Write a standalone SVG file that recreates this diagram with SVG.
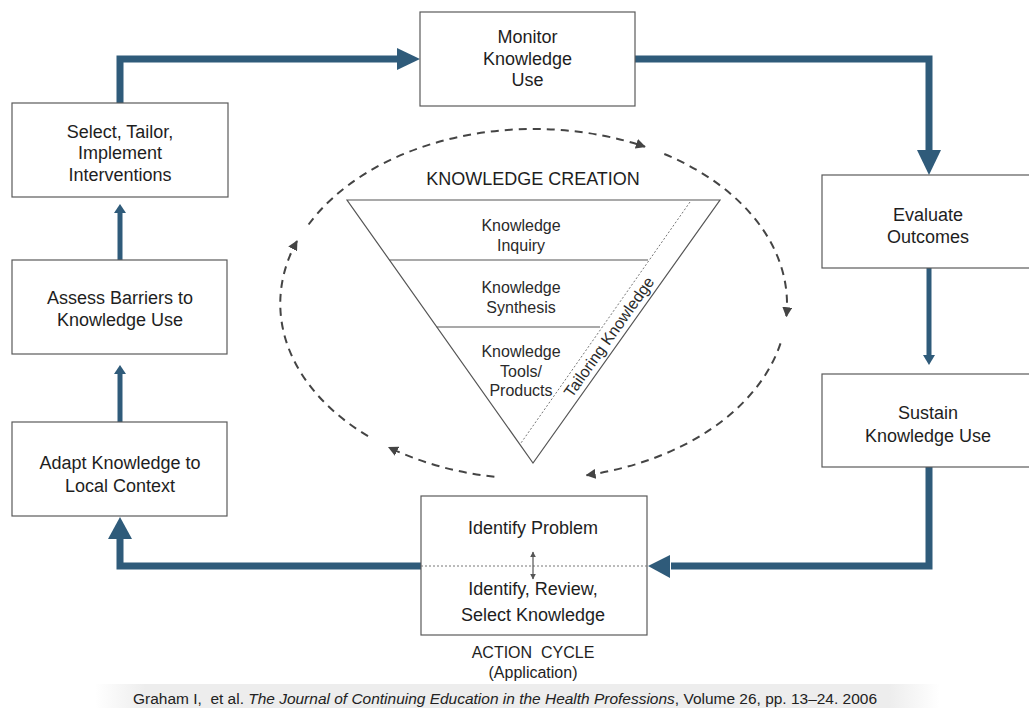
<svg xmlns="http://www.w3.org/2000/svg" width="1029" height="708" viewBox="0 0 1029 708">
  <defs>
    <style>
      .box { fill: #ffffff; stroke: #5a5a5a; stroke-width: 1.2; }
      .lbl { font-family: "Liberation Sans", Arial, sans-serif; font-size: 18px; fill: #1e1e1e; text-anchor: middle; }
      .tri { font-family: "Liberation Sans", Arial, sans-serif; font-size: 16px; fill: #2a2a2a; text-anchor: middle; }
      .pre { white-space: pre; }
      .flow { fill: none; stroke: #2f5b7a; stroke-width: 7; stroke-linejoin: miter; }
      .flow-thin { fill: none; stroke: #2f5b7a; stroke-width: 5; }
      .head { fill: #2f5b7a; }
      .cycle { fill: none; stroke: #444444; stroke-width: 2; stroke-dasharray: 8 6; }
      .dot { fill: none; stroke: #777777; stroke-width: 1; stroke-dasharray: 2 2; }
      .edge { fill: none; stroke: #555555; stroke-width: 1.2; }
    </style>
    <marker id="dash-head" viewBox="0 0 10 10" refX="9" refY="5" markerWidth="10" markerHeight="10" markerUnits="userSpaceOnUse" orient="auto">
      <path d="M0,0 L10,5 L0,10 Z" fill="#444444"/>
    </marker>
    <marker id="tiny-head" viewBox="0 0 10 10" refX="9" refY="5" markerWidth="6" markerHeight="6" markerUnits="userSpaceOnUse" orient="auto-start-reverse">
      <path d="M0,0 L10,5 L0,10 Z" fill="#555555"/>
    </marker>
    <linearGradient id="band" x1="0" y1="0" x2="1" y2="0">
      <stop offset="0" stop-color="#ededed" stop-opacity="0"/>
      <stop offset="0.06" stop-color="#ededed" stop-opacity="1"/>
      <stop offset="0.94" stop-color="#ededed" stop-opacity="1"/>
      <stop offset="1" stop-color="#ededed" stop-opacity="0"/>
    </linearGradient>
  </defs>

  <rect x="0" y="0" width="1029" height="708" fill="#ffffff"/>

  <!-- citation band -->
  <rect x="95" y="684" width="845" height="24" fill="url(#band)"/>

  <!-- thick action-cycle connectors -->
  <g id="connectors">
    <path class="flow" d="M120,103 V59 H399"/>
    <polygon class="head" points="397,48 420,59 397,70"/>

    <path class="flow" d="M635,59 H929 V152"/>
    <polygon class="head" points="917,150 929,175 941,150"/>

    <path class="flow-thin" d="M929,268 V357"/>
    <polygon class="head" points="923,355 929,365 935,355"/>

    <path class="flow" d="M929,467 V566 H671"/>
    <polygon class="head" points="670,555 648,566 670,578"/>

    <path class="flow" d="M421,566 H120 V538"/>
    <polygon class="head" points="108,539 120,517 132,539"/>

    <path class="flow-thin" d="M120,422 V372"/>
    <polygon class="head" points="114,374 120,365 126,374"/>

    <path class="flow-thin" d="M120,260 V211"/>
    <polygon class="head" points="114,213 120,204 126,213"/>

    <!-- dashed knowledge-creation cycle -->
    <path class="cycle" marker-end="url(#dash-head)" d="M308.6,224.5 A253,175 0 0 1 644.9,146.7"/>
    <path class="cycle" marker-end="url(#dash-head)" d="M664.3,154.0 A253,175 0 0 1 786.4,316.2"/>
    <path class="cycle" marker-end="url(#dash-head)" d="M780.5,343.4 A253,175 0 0 1 586.6,475.2"/>
    <path class="cycle" marker-end="url(#dash-head)" d="M494.4,476.8 A253,175 0 0 1 388.9,447.4"/>
    <path class="cycle" marker-end="url(#dash-head)" d="M368.0,436.1 A253,175 0 0 1 297.0,241.0"/>
  </g>

  <g id="monitor">
    <rect class="box" x="420" y="12" width="215" height="94"/>
    <text class="lbl" x="527.5" y="43">Monitor</text>
    <text class="lbl" x="527.5" y="65">Knowledge</text>
    <text class="lbl" x="527.5" y="86">Use</text>
  </g>

  <g id="select">
    <rect class="box" x="12" y="103" width="216" height="94"/>
    <text class="lbl" x="120" y="138">Select, Tailor,</text>
    <text class="lbl" x="120" y="159">Implement</text>
    <text class="lbl" x="120" y="181">Interventions</text>
  </g>

  <g id="assess">
    <rect class="box" x="12" y="260" width="215" height="94"/>
    <text class="lbl" x="120" y="304">Assess Barriers to</text>
    <text class="lbl" x="120" y="326">Knowledge Use</text>
  </g>

  <g id="adapt">
    <rect class="box" x="12" y="422" width="215" height="94"/>
    <text class="lbl" x="120" y="469">Adapt Knowledge to</text>
    <text class="lbl" x="120" y="492">Local Context</text>
  </g>

  <g id="evaluate">
    <rect class="box" x="822" y="175" width="215" height="93"/>
    <text class="lbl" x="928" y="221">Evaluate</text>
    <text class="lbl" x="928" y="243">Outcomes</text>
  </g>

  <g id="sustain">
    <rect class="box" x="822" y="374" width="215" height="93"/>
    <text class="lbl" x="928" y="419">Sustain</text>
    <text class="lbl" x="928" y="442">Knowledge Use</text>
  </g>

  <g id="identify">
    <rect class="box" x="421" y="496" width="226" height="139"/>
    <line class="dot" x1="421" y1="566" x2="647" y2="566"/>
    <line x1="533" y1="552" x2="533" y2="579" stroke="#555555" stroke-width="1.2" marker-start="url(#tiny-head)" marker-end="url(#tiny-head)"/>
    <text class="lbl" x="533" y="534">Identify Problem</text>
    <text class="lbl" x="533" y="595">Identify, Review,</text>
    <text class="lbl" x="533" y="621">Select Knowledge</text>
    <text class="lbl pre" x="533" y="658" style="font-size:16px">ACTION  CYCLE</text>
    <text class="lbl" x="533" y="678" style="font-size:16px">(Application)</text>
  </g>

  <g id="knowledge-creation">
    <text class="lbl" x="533" y="185">KNOWLEDGE CREATION</text>
    <polygon class="edge" points="347,200 720,200 533,463"/>
    <line class="edge" x1="389.4" y1="260" x2="648" y2="260"/>
    <line class="edge" x1="436.8" y1="327" x2="600" y2="327"/>
    <line class="dot" x1="690" y1="202" x2="521" y2="443"/>
    <text class="tri" x="521" y="231">Knowledge</text>
    <text class="tri" x="521" y="251">Inquiry</text>
    <text class="tri" x="521" y="293">Knowledge</text>
    <text class="tri" x="521" y="313">Synthesis</text>
    <text class="tri" x="521" y="357">Knowledge</text>
    <text class="tri" x="521" y="377">Tools/</text>
    <text class="tri" x="521" y="396">Products</text>
    <text class="tri" transform="translate(609,337) rotate(-54.6)" x="0" y="5.5">Tailoring Knowledge</text>
  </g>

  <text class="pre" x="133" y="704" font-family="'Liberation Sans Narrow', 'Liberation Sans', Arial, sans-serif" font-size="14" fill="#222222" textLength="744" lengthAdjust="spacingAndGlyphs">Graham I,  et al. <tspan font-style="italic">The Journal of Continuing Education in the Health Professions</tspan>, Volume 26, pp. 13–24. 2006</text>
</svg>
